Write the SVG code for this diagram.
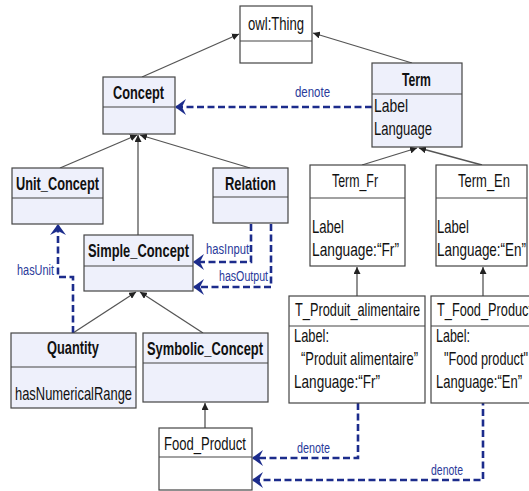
<svg xmlns="http://www.w3.org/2000/svg" width="529" height="491" viewBox="0 0 529 491">
<style>
.box{stroke:#444;stroke-width:1.2}
.lav{fill:#eef0fb}
.wht{fill:#ffffff}
.div{stroke:#444;stroke-width:1.2}
text{font-family:"Liberation Sans",Arial,sans-serif;fill:#111}
.t{font-size:18.5px}
.b{font-size:18.5px;font-weight:bold}
.lbl{font-size:14px;fill:#2a3a9a}
.gen{stroke:#555;stroke-width:1.3;fill:none;marker-end:url(#tri)}
.dash{stroke:#1c2c8c;stroke-width:2.6;fill:none;stroke-dasharray:7 3.5;marker-end:url(#vee)}
</style>
<defs>
<marker id="tri" viewBox="0 0 10 10" refX="10" refY="5" markerWidth="7" markerHeight="7" markerUnits="userSpaceOnUse" orient="auto">
<path d="M0,0 L10,5 L0,10 z" fill="#222"/>
</marker>
<marker id="vee" viewBox="0 0 12 16" refX="11" refY="8" markerWidth="12" markerHeight="16" markerUnits="userSpaceOnUse" orient="auto">
<path d="M12,8 L1,0 L5,8 L1,16 z" fill="#1c2c8c"/>
</marker>
</defs>

<g id="connectors">
<path class="gen" d="M142,77 L239,34"/>
<path class="gen" d="M412,63 L313,33"/>
<path class="gen" d="M60,168 L137,135"/>
<path class="gen" d="M138,235 L138,135"/>
<path class="gen" d="M250,168 L140,135"/>
<path class="gen" d="M73,333 L136,292"/>
<path class="gen" d="M203,333 L140,292"/>
<path class="gen" d="M205,428 L205,403"/>
<path class="gen" d="M362,165 L417,148"/>
<path class="gen" d="M482,165 L419,148"/>
<path class="gen" d="M357,296 L357,267"/>
<path class="gen" d="M483,296 L483,267"/>

<path class="dash" d="M372,107 L176,107"/>
<path class="dash" d="M251,224 L251,262 L194,262"/>
<path class="dash" d="M271,224 L271,287 L194,287"/>
<path class="dash" d="M73,333 L73,277 L58,277 L58,225"/>
<path class="dash" d="M358,403 L358,458 L253,458"/>
<path class="dash" d="M483,388 L483,480 L253,480"/>

<text class="lbl" x="295" y="97" textLength="35" lengthAdjust="spacingAndGlyphs">denote</text>
<text class="lbl" x="206" y="254" textLength="43" lengthAdjust="spacingAndGlyphs">hasInput</text>
<text class="lbl" x="219" y="281" textLength="49" lengthAdjust="spacingAndGlyphs">hasOutput</text>
<text class="lbl" x="17" y="275" textLength="37" lengthAdjust="spacingAndGlyphs">hasUnit</text>
<text class="lbl" x="297" y="453" textLength="33" lengthAdjust="spacingAndGlyphs">denote</text>
<text class="lbl" x="431" y="475" textLength="32" lengthAdjust="spacingAndGlyphs">denote</text>
</g>

<g id="owl_thing">
<rect class="box wht" x="240" y="6" width="72" height="57"/>
<line class="div" x1="240" y1="41" x2="312" y2="41"/>
<text class="t" x="248" y="30" textLength="56" lengthAdjust="spacingAndGlyphs">owl:Thing</text>
</g>

<g id="concept">
<rect class="box lav" x="103" y="77" width="72" height="57"/>
<line class="div" x1="103" y1="107" x2="175" y2="107"/>
<text class="b" x="113" y="99" textLength="51" lengthAdjust="spacingAndGlyphs">Concept</text>
</g>

<g id="term">
<rect class="box lav" x="372" y="63" width="90" height="84"/>
<line class="div" x1="372" y1="94" x2="462" y2="94"/>
<text class="b" x="402" y="86" textLength="29" lengthAdjust="spacingAndGlyphs">Term</text>
<text class="t" x="374" y="112" textLength="34" lengthAdjust="spacingAndGlyphs">Label</text>
<text class="t" x="374" y="135" textLength="58" lengthAdjust="spacingAndGlyphs">Language</text>
</g>

<g id="unit_concept">
<rect class="box lav" x="12" y="168" width="91" height="56"/>
<line class="div" x1="12" y1="198" x2="103" y2="198"/>
<text class="b" x="16" y="190" textLength="83" lengthAdjust="spacingAndGlyphs">Unit_Concept</text>
</g>

<g id="relation">
<rect class="box lav" x="213" y="168" width="75" height="55"/>
<line class="div" x1="213" y1="197" x2="288" y2="197"/>
<text class="b" x="225" y="190" textLength="51" lengthAdjust="spacingAndGlyphs">Relation</text>
</g>

<g id="simple_concept">
<rect class="box lav" x="84" y="235" width="109" height="56"/>
<line class="div" x1="84" y1="266" x2="193" y2="266"/>
<text class="b" x="88" y="257" textLength="101" lengthAdjust="spacingAndGlyphs">Simple_Concept</text>
</g>

<g id="quantity">
<rect class="box lav" x="11" y="333" width="125" height="75"/>
<line class="div" x1="11" y1="367" x2="136" y2="367"/>
<text class="b" x="47" y="354" textLength="52" lengthAdjust="spacingAndGlyphs">Quantity</text>
<text class="t" x="15" y="400" textLength="117" lengthAdjust="spacingAndGlyphs">hasNumericalRange</text>
</g>

<g id="symbolic_concept">
<rect class="box lav" x="143" y="333" width="125" height="69"/>
<line class="div" x1="143" y1="363" x2="268" y2="363"/>
<text class="b" x="147" y="355" textLength="116" lengthAdjust="spacingAndGlyphs">Symbolic_Concept</text>
</g>

<g id="food_product">
<rect class="box wht" x="159" y="428" width="93" height="62"/>
<line class="div" x1="159" y1="457" x2="252" y2="457"/>
<text class="t" x="164" y="450" textLength="82" lengthAdjust="spacingAndGlyphs">Food_Product</text>
</g>

<g id="term_fr">
<rect class="box wht" x="310" y="165" width="95" height="101"/>
<line class="div" x1="310" y1="198" x2="405" y2="198"/>
<text class="t" x="332" y="187" textLength="46" lengthAdjust="spacingAndGlyphs">Term_Fr</text>
<text class="t" x="312" y="233" textLength="32" lengthAdjust="spacingAndGlyphs">Label</text>
<text class="t" x="312" y="256" textLength="87" lengthAdjust="spacingAndGlyphs">Language:“Fr”</text>
</g>

<g id="term_en">
<rect class="box wht" x="436" y="165" width="91" height="101"/>
<line class="div" x1="436" y1="198" x2="527" y2="198"/>
<text class="t" x="458" y="187" textLength="52" lengthAdjust="spacingAndGlyphs">Term_En</text>
<text class="t" x="437" y="233" textLength="32" lengthAdjust="spacingAndGlyphs">Label</text>
<text class="t" x="437" y="256" textLength="89" lengthAdjust="spacingAndGlyphs">Language:“En”</text>
</g>

<g id="t_produit_alimentaire">
<rect class="box wht" x="289" y="296" width="136" height="107"/>
<line class="div" x1="289" y1="326" x2="425" y2="326"/>
<text class="t" x="295" y="316" textLength="125" lengthAdjust="spacingAndGlyphs">T_Produit_alimentaire</text>
<text class="t" x="294" y="342" textLength="35" lengthAdjust="spacingAndGlyphs">Label:</text>
<text class="t" x="301" y="365" textLength="117" lengthAdjust="spacingAndGlyphs">“Produit alimentaire”</text>
<text class="t" x="294" y="388" textLength="86" lengthAdjust="spacingAndGlyphs">Language:“Fr”</text>
</g>

<g id="t_food_product">
<rect class="box wht" x="431" y="296" width="100" height="107"/>
<line class="div" x1="431" y1="326" x2="531" y2="326"/>
<text class="t" x="437" y="316" textLength="95" lengthAdjust="spacingAndGlyphs">T_Food_Product</text>
<text class="t" x="436" y="342" textLength="34" lengthAdjust="spacingAndGlyphs">Label:</text>
<text class="t" x="444" y="365" textLength="84" lengthAdjust="spacingAndGlyphs">"Food product"</text>
<text class="t" x="436" y="388" textLength="86" lengthAdjust="spacingAndGlyphs">Language:“En”</text>
</g>
</svg>
